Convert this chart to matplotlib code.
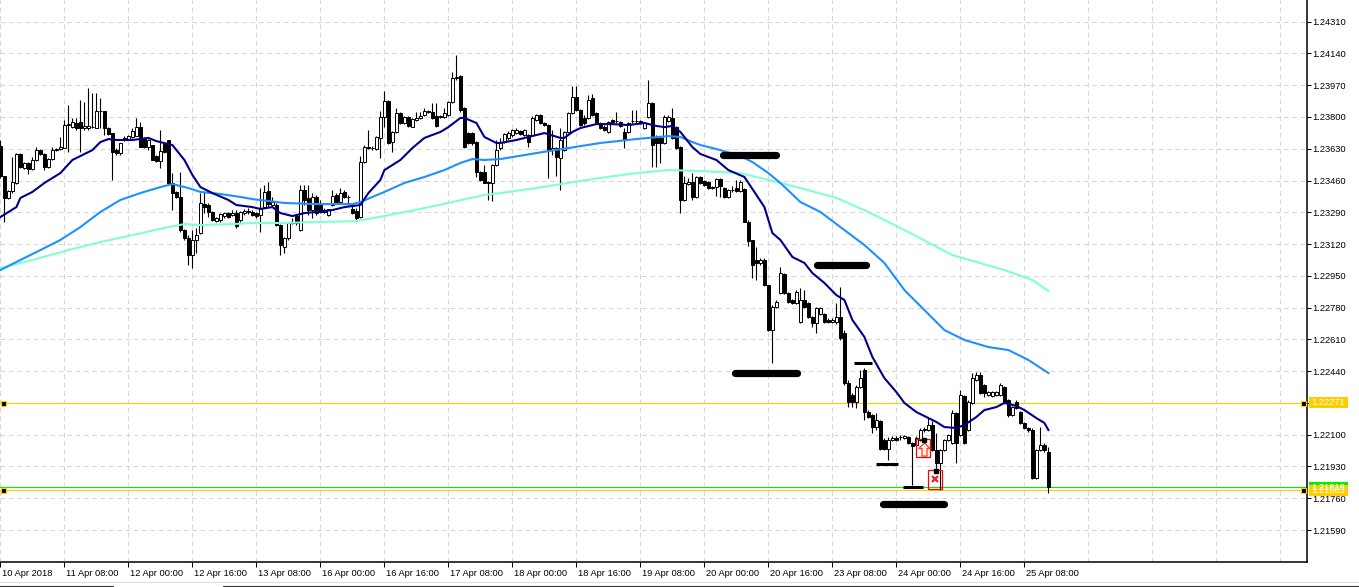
import numpy as np
import matplotlib.pyplot as plt
from matplotlib.patches import Rectangle
from matplotlib.transforms import ScaledTranslation, blended_transform_factory

plt.rcParams['font.family'] = ['Liberation Sans', 'DejaVu Sans']

# EURUSD H1, one value per bar
opens = [
    1.23645, 1.23484, 1.23367, 1.23404, 1.23447, 1.23602, 1.23527, 1.23554, 1.23522, 1.23570,
    1.23623, 1.23602, 1.23532, 1.23575, 1.23623, 1.23629, 1.23634, 1.23757, 1.23746, 1.23768,
    1.23773, 1.23741, 1.23741, 1.23746, 1.23741, 1.23832, 1.23832, 1.23741, 1.23714, 1.23623,
    1.23607, 1.23677, 1.23682, 1.23693, 1.23698, 1.23746, 1.23682, 1.23639, 1.23650, 1.23591,
    1.23564, 1.23661, 1.23677, 1.23447, 1.23399, 1.23372, 1.23195, 1.23152, 1.23062, 1.23142,
    1.23179, 1.23334, 1.23329, 1.23292, 1.23243, 1.23249, 1.23270, 1.23286, 1.23276, 1.23286,
    1.23249, 1.23286, 1.23297, 1.23292, 1.23286, 1.23276, 1.23318, 1.23404, 1.23329, 1.23329,
    1.23222, 1.23104, 1.23152, 1.23233, 1.23270, 1.23195, 1.23409, 1.23367, 1.23302, 1.23372,
    1.23329, 1.23292, 1.23276, 1.23329, 1.23383, 1.23345, 1.23399, 1.23372, 1.23308, 1.23297,
    1.23265, 1.23559, 1.23639, 1.23634, 1.23629, 1.23688, 1.23800, 1.23886, 1.23666, 1.23720,
    1.23821, 1.23768, 1.23800, 1.23746, 1.23784, 1.23795, 1.23811, 1.23832, 1.23827, 1.23805,
    1.23800, 1.23800, 1.23811, 1.23880, 1.24009, 1.24019, 1.23848, 1.23714, 1.23714, 1.23666,
    1.23506, 1.23506, 1.23452, 1.23447, 1.23543, 1.23634, 1.23666, 1.23688, 1.23704, 1.23714,
    1.23725, 1.23704, 1.23704, 1.23704, 1.23784, 1.23811, 1.23768, 1.23757, 1.23623, 1.23634,
    1.23581, 1.23623, 1.23720, 1.23821, 1.23907, 1.23837, 1.23795, 1.23795, 1.23902, 1.23821,
    1.23768, 1.23746, 1.23720, 1.23784, 1.23779, 1.23773, 1.23720, 1.23720, 1.23779, 1.23779,
    1.23779, 1.23741, 1.23800, 1.23875, 1.23688, 1.23688, 1.23661, 1.23779, 1.23795, 1.23746,
    1.23639, 1.23356, 1.23441, 1.23452, 1.23372, 1.23479, 1.23457, 1.23452, 1.23420, 1.23425,
    1.23468, 1.23420, 1.23372, 1.23409, 1.23420, 1.23404, 1.23415, 1.23238, 1.23142, 1.23035,
    1.23019, 1.23035, 1.22901, 1.22660, 1.22783, 1.22858, 1.22960, 1.22858, 1.22821, 1.22805,
    1.22703, 1.22821, 1.22805, 1.22730, 1.22698, 1.22746, 1.22746, 1.22714, 1.22703, 1.22703,
    1.22730, 1.22644, 1.22377, 1.22312, 1.22275, 1.22355, 1.22446, 1.22221, 1.22205, 1.22141,
    1.22173, 1.22072, 1.22023, 1.22072, 1.22082, 1.22088, 1.22082, 1.22088, 1.22056, 1.22045,
    1.22072, 1.22125, 1.22125, 1.22152, 1.22018, 1.21948, 1.22018, 1.22072, 1.22056, 1.22216,
    1.22098, 1.22307, 1.22125, 1.22269, 1.22393, 1.22419, 1.22366, 1.22312, 1.22307, 1.22312,
    1.22312, 1.22355, 1.22286, 1.22205, 1.22275, 1.22221, 1.22163, 1.22136, 1.22125, 1.21868,
    1.22018, 1.22045, 1.22007]
highs = [
    1.23677, 1.23484, 1.23409, 1.23586, 1.23607, 1.23607, 1.23559, 1.23559, 1.23586, 1.23639,
    1.23629, 1.23607, 1.23581, 1.23639, 1.23634, 1.23693, 1.23784, 1.23864, 1.23795, 1.23795,
    1.23891, 1.23880, 1.23955, 1.23928, 1.23928, 1.23902, 1.23832, 1.23746, 1.23714, 1.23634,
    1.23661, 1.23698, 1.23704, 1.23741, 1.23795, 1.23773, 1.23693, 1.23682, 1.23650, 1.23597,
    1.23730, 1.23666, 1.23677, 1.23500, 1.23404, 1.23506, 1.23201, 1.23168, 1.23195, 1.23206,
    1.23393, 1.23399, 1.23340, 1.23297, 1.23265, 1.23286, 1.23292, 1.23292, 1.23302, 1.23302,
    1.23297, 1.23308, 1.23313, 1.23302, 1.23292, 1.23420, 1.23436, 1.23452, 1.23372, 1.23340,
    1.23227, 1.23158, 1.23238, 1.23259, 1.23281, 1.23436, 1.23436, 1.23436, 1.23393, 1.23383,
    1.23356, 1.23313, 1.23308, 1.23409, 1.23393, 1.23420, 1.23409, 1.23383, 1.23329, 1.23313,
    1.23591, 1.23650, 1.23730, 1.23645, 1.23698, 1.23832, 1.23939, 1.23891, 1.23725, 1.23848,
    1.23827, 1.23805, 1.23805, 1.23795, 1.23827, 1.23827, 1.23848, 1.23837, 1.23875, 1.23875,
    1.23811, 1.23848, 1.23886, 1.24041, 1.24132, 1.24025, 1.23853, 1.23720, 1.23720, 1.23671,
    1.23511, 1.23543, 1.23457, 1.23548, 1.23677, 1.23688, 1.23714, 1.23725, 1.23736, 1.23741,
    1.23730, 1.23736, 1.23709, 1.23805, 1.23816, 1.23816, 1.23773, 1.23762, 1.23730, 1.23639,
    1.23741, 1.23725, 1.23827, 1.23966, 1.23966, 1.23843, 1.23811, 1.23918, 1.23923, 1.23827,
    1.23773, 1.23757, 1.23779, 1.23789, 1.23827, 1.23779, 1.23741, 1.23773, 1.23837, 1.23837,
    1.23784, 1.23773, 1.23998, 1.23880, 1.23704, 1.23698, 1.23811, 1.23811, 1.23848, 1.23752,
    1.23645, 1.23484, 1.23474, 1.23500, 1.23484, 1.23484, 1.23463, 1.23457, 1.23431, 1.23474,
    1.23474, 1.23425, 1.23415, 1.23431, 1.23463, 1.23463, 1.23420, 1.23249, 1.23142, 1.23104,
    1.23045, 1.23045, 1.22901, 1.22794, 1.22821, 1.22997, 1.22965, 1.22864, 1.22826, 1.22874,
    1.22885, 1.22874, 1.22810, 1.22735, 1.22783, 1.22783, 1.22751, 1.22724, 1.22724, 1.22805,
    1.22890, 1.22660, 1.22393, 1.22323, 1.22366, 1.22446, 1.22457, 1.22232, 1.22211, 1.22216,
    1.22179, 1.22082, 1.22088, 1.22093, 1.22093, 1.22098, 1.22098, 1.22093, 1.22061, 1.22093,
    1.22136, 1.22141, 1.22189, 1.22173, 1.22109, 1.22023, 1.22077, 1.22104, 1.22232, 1.22221,
    1.22339, 1.22312, 1.22286, 1.22430, 1.22435, 1.22435, 1.22371, 1.22334, 1.22334, 1.22334,
    1.22377, 1.22361, 1.22291, 1.22253, 1.22286, 1.22227, 1.22168, 1.22141, 1.22136, 1.22023,
    1.22141, 1.22056, 1.22034]
lows = [
    1.23474, 1.23238, 1.23361, 1.23393, 1.23441, 1.23527, 1.23522, 1.23495, 1.23516, 1.23564,
    1.23597, 1.23516, 1.23527, 1.23570, 1.23618, 1.23623, 1.23634, 1.23613, 1.23741, 1.23730,
    1.23613, 1.23730, 1.23730, 1.23741, 1.23741, 1.23741, 1.23704, 1.23704, 1.23463, 1.23597,
    1.23597, 1.23671, 1.23677, 1.23688, 1.23698, 1.23639, 1.23634, 1.23623, 1.23570, 1.23559,
    1.23527, 1.23607, 1.23447, 1.23302, 1.23367, 1.23185, 1.23142, 1.23008, 1.22992, 1.23072,
    1.23174, 1.23286, 1.23265, 1.23243, 1.23238, 1.23238, 1.23259, 1.23259, 1.23270, 1.23206,
    1.23238, 1.23276, 1.23281, 1.23270, 1.23259, 1.23185, 1.23313, 1.23318, 1.23318, 1.23217,
    1.23062, 1.23072, 1.23142, 1.23227, 1.23222, 1.23190, 1.23329, 1.23276, 1.23259, 1.23276,
    1.23286, 1.23286, 1.23270, 1.23324, 1.23340, 1.23340, 1.23367, 1.23329, 1.23281, 1.23249,
    1.23259, 1.23554, 1.23629, 1.23623, 1.23623, 1.23581, 1.23746, 1.23655, 1.23613, 1.23714,
    1.23762, 1.23762, 1.23746, 1.23746, 1.23779, 1.23789, 1.23805, 1.23821, 1.23789, 1.23746,
    1.23795, 1.23795, 1.23805, 1.23875, 1.23998, 1.23827, 1.23634, 1.23655, 1.23650, 1.23479,
    1.23457, 1.23447, 1.23356, 1.23350, 1.23538, 1.23623, 1.23661, 1.23677, 1.23693, 1.23709,
    1.23704, 1.23698, 1.23639, 1.23698, 1.23779, 1.23762, 1.23752, 1.23474, 1.23597, 1.23484,
    1.23409, 1.23618, 1.23714, 1.23816, 1.23832, 1.23752, 1.23757, 1.23789, 1.23805, 1.23762,
    1.23736, 1.23725, 1.23714, 1.23768, 1.23768, 1.23746, 1.23634, 1.23714, 1.23768, 1.23768,
    1.23762, 1.23736, 1.23795, 1.23532, 1.23532, 1.23554, 1.23655, 1.23773, 1.23682, 1.23629,
    1.23286, 1.23350, 1.23436, 1.23356, 1.23367, 1.23441, 1.23431, 1.23415, 1.23415, 1.23377,
    1.23372, 1.23367, 1.23367, 1.23399, 1.23399, 1.23399, 1.23238, 1.23110, 1.22938, 1.22928,
    1.23008, 1.22896, 1.22655, 1.22484, 1.22778, 1.22853, 1.22853, 1.22805, 1.22799, 1.22799,
    1.22698, 1.22778, 1.22724, 1.22676, 1.22644, 1.22740, 1.22698, 1.22698, 1.22698, 1.22692,
    1.22607, 1.22366, 1.22248, 1.22248, 1.22243, 1.22350, 1.22179, 1.22189, 1.22109, 1.22125,
    1.22018, 1.22018, 1.21965, 1.22066, 1.22066, 1.22072, 1.22077, 1.22050, 1.21831, 1.22039,
    1.22066, 1.22114, 1.22120, 1.22013, 1.21911, 1.21804, 1.22013, 1.22066, 1.22050, 1.21948,
    1.22093, 1.22050, 1.22120, 1.22264, 1.22387, 1.22318, 1.22302, 1.22307, 1.22302, 1.22307,
    1.22307, 1.22269, 1.22195, 1.22200, 1.22237, 1.22157, 1.22130, 1.22114, 1.21863, 1.21863,
    1.22013, 1.22007, 1.21788]
closes = [
    1.23484, 1.23367, 1.23404, 1.23452, 1.23602, 1.23532, 1.23554, 1.23522, 1.23570, 1.23623,
    1.23602, 1.23532, 1.23575, 1.23623, 1.23629, 1.23639, 1.23757, 1.23762, 1.23773, 1.23741,
    1.23741, 1.23752, 1.23752, 1.23748, 1.23832, 1.23830, 1.23741, 1.23709, 1.23613, 1.23607,
    1.23661, 1.23688, 1.23698, 1.23725, 1.23746, 1.23639, 1.23639, 1.23677, 1.23570, 1.23564,
    1.23618, 1.23613, 1.23447, 1.23393, 1.23372, 1.23195, 1.23152, 1.23062, 1.23142, 1.23168,
    1.23340, 1.23318, 1.23292, 1.23249, 1.23259, 1.23281, 1.23286, 1.23265, 1.23286, 1.23217,
    1.23292, 1.23297, 1.23292, 1.23276, 1.23270, 1.23313, 1.23399, 1.23334, 1.23345, 1.23222,
    1.23115, 1.23152, 1.23233, 1.23238, 1.23233, 1.23409, 1.23356, 1.23302, 1.23372, 1.23286,
    1.23292, 1.23302, 1.23308, 1.23377, 1.23345, 1.23393, 1.23372, 1.23370, 1.23286, 1.23259,
    1.23559, 1.23639, 1.23634, 1.23632, 1.23693, 1.23800, 1.23886, 1.23661, 1.23720, 1.23821,
    1.23768, 1.23800, 1.23752, 1.23789, 1.23795, 1.23805, 1.23832, 1.23827, 1.23795, 1.23752,
    1.23803, 1.23821, 1.23880, 1.24009, 1.24012, 1.23837, 1.23639, 1.23661, 1.23661, 1.23506,
    1.23463, 1.23447, 1.23447, 1.23543, 1.23623, 1.23666, 1.23709, 1.23714, 1.23730, 1.23730,
    1.23709, 1.23730, 1.23666, 1.23795, 1.23811, 1.23768, 1.23757, 1.23623, 1.23634, 1.23586,
    1.23677, 1.23720, 1.23821, 1.23907, 1.23837, 1.23757, 1.23768, 1.23891, 1.23811, 1.23768,
    1.23741, 1.23730, 1.23773, 1.23773, 1.23776, 1.23752, 1.23677, 1.23768, 1.23776, 1.23776,
    1.23768, 1.23768, 1.23875, 1.23650, 1.23661, 1.23661, 1.23800, 1.23800, 1.23688, 1.23634,
    1.23356, 1.23447, 1.23452, 1.23372, 1.23479, 1.23447, 1.23436, 1.23420, 1.23425, 1.23468,
    1.23431, 1.23372, 1.23409, 1.23407, 1.23404, 1.23452, 1.23238, 1.23136, 1.23008, 1.23019,
    1.23035, 1.22901, 1.22660, 1.22783, 1.22810, 1.22965, 1.22858, 1.22810, 1.22805, 1.22864,
    1.22821, 1.22783, 1.22730, 1.22698, 1.22778, 1.22778, 1.22703, 1.22703, 1.22714, 1.22730,
    1.22617, 1.22377, 1.22275, 1.22275, 1.22355, 1.22403, 1.22221, 1.22195, 1.22141, 1.22179,
    1.22023, 1.22023, 1.22072, 1.22082, 1.22072, 1.22086, 1.22093, 1.22056, 1.22039, 1.22082,
    1.22125, 1.22130, 1.22152, 1.22018, 1.21948, 1.22018, 1.22072, 1.22098, 1.22216, 1.22056,
    1.22312, 1.22056, 1.22275, 1.22403, 1.22419, 1.22323, 1.22323, 1.22328, 1.22328, 1.22328,
    1.22366, 1.22269, 1.22205, 1.22248, 1.22243, 1.22163, 1.22136, 1.22125, 1.21868, 1.22018,
    1.22045, 1.22018, 1.21818]

# moving averages, read at selected bars
ma_fast_bars = [0, 4, 5, 8, 11, 15, 18, 23, 25, 27, 29, 33, 37, 39, 42, 43, 46, 48, 50, 53,
                57, 59, 63, 65, 68, 70, 73, 76, 79, 83, 86, 90, 92, 95, 96, 100, 103, 106, 110, 112,
                115, 116, 119, 121, 124, 125, 129, 132, 136, 140, 141, 143, 145, 149, 153, 157, 161, 164, 166, 168,
                170, 173, 175, 179, 182, 186, 189, 191, 193, 195, 198, 201, 203, 206, 209, 211, 213, 216, 218, 221,
                224, 226, 229, 231, 234, 236, 239, 241, 244, 246, 249, 251, 254, 256, 259, 261, 262]
ma_fast = [1.23265, 1.23318, 1.23367, 1.23399, 1.23447, 1.23500, 1.23570, 1.23623, 1.23666, 1.23682,
           1.23677, 1.23677, 1.23688, 1.23671, 1.23655, 1.23650, 1.23570, 1.23490, 1.23425, 1.23393,
           1.23356, 1.23329, 1.23318, 1.23308, 1.23318, 1.23286, 1.23270, 1.23286, 1.23292, 1.23302,
           1.23318, 1.23329, 1.23393, 1.23463, 1.23516, 1.23570, 1.23634, 1.23688, 1.23720, 1.23746,
           1.23795, 1.23795, 1.23768, 1.23693, 1.23661, 1.23661, 1.23677, 1.23693, 1.23714, 1.23688,
           1.23688, 1.23720, 1.23741, 1.23762, 1.23762, 1.23757, 1.23768, 1.23752, 1.23746, 1.23752,
           1.23720, 1.23639, 1.23602, 1.23570, 1.23516, 1.23479, 1.23383, 1.23318, 1.23179, 1.23142,
           1.23051, 1.23019, 1.22965, 1.22912, 1.22847, 1.22821, 1.22714, 1.22623, 1.22516, 1.22403,
           1.22328, 1.22270, 1.22221, 1.22200, 1.22168, 1.22141, 1.22136, 1.22152, 1.22195, 1.22232,
           1.22248, 1.22270, 1.22254, 1.22232, 1.22189, 1.22163, 1.22125]

ma_mid_bars = [0, 5, 10, 15, 20, 25, 30, 35, 40, 43, 47, 50, 55, 60, 63, 71, 79, 88, 90, 96,
               101, 106, 111, 115, 118, 121, 125, 134, 142, 150, 159, 167, 170, 173, 175, 180, 185, 188, 192, 195,
               200, 205, 210, 216, 221, 226, 236, 241, 247, 252, 257, 262]
ma_mid = [1.22981, 1.23035, 1.23088, 1.23142, 1.23211, 1.23292, 1.23356, 1.23393, 1.23425, 1.23441,
          1.23420, 1.23399, 1.23388, 1.23372, 1.23361, 1.23340, 1.23334, 1.23334, 1.23345, 1.23399,
          1.23447, 1.23479, 1.23516, 1.23554, 1.23575, 1.23570, 1.23575, 1.23607, 1.23634, 1.23661,
          1.23682, 1.23698, 1.23693, 1.23666, 1.23650, 1.23623, 1.23591, 1.23559, 1.23500, 1.23447,
          1.23345, 1.23292, 1.23211, 1.23115, 1.23019, 1.22874, 1.22660, 1.22607, 1.22569, 1.22553,
          1.22500, 1.22430]

ma_slow_bars = [0, 8, 17, 25, 33, 42, 46, 50, 58, 63, 71, 79, 89, 96, 105, 113, 121, 125, 134, 142,
                150, 159, 167, 175, 185, 192, 200, 209, 217, 226, 238, 251, 258, 262]
ma_slow = [1.22992, 1.23035, 1.23088, 1.23131, 1.23168, 1.23211, 1.23227, 1.23222, 1.23227, 1.23233,
           1.23233, 1.23238, 1.23243, 1.23270, 1.23308, 1.23345, 1.23383, 1.23393, 1.23420, 1.23447,
           1.23474, 1.23500, 1.23516, 1.23511, 1.23500, 1.23463, 1.23420, 1.23367, 1.23292, 1.23195,
           1.23061, 1.22981, 1.22928, 1.22869]

tick_bars = list(range(0, 257, 16))
tick_labels = ['10 Apr 2018', '11 Apr 08:00', '12 Apr 00:00', '12 Apr 16:00', '13 Apr 08:00',
               '16 Apr 00:00', '16 Apr 16:00', '17 Apr 08:00', '18 Apr 00:00', '18 Apr 16:00',
               '19 Apr 08:00', '20 Apr 00:00', '20 Apr 16:00', '23 Apr 08:00', '24 Apr 00:00',
               '24 Apr 16:00', '25 Apr 08:00']
price_ticks = [1.24310, 1.24140, 1.23970, 1.23800, 1.23630, 1.23460, 1.23290, 1.23120, 1.22950,
               1.22780, 1.22610, 1.22440, 1.22270, 1.22100, 1.21930, 1.21760, 1.21590]

# drawn objects: (bar from, bar to, price)
thick_marks = [(180.6, 193.9, 1.23594), (204.1, 216.4, 1.23008),
               (183.6, 199.1, 1.22430), (220.6, 235.9, 1.21729)]
thin_marks = [(213.4, 218.0, 1.22484), (219.0, 224.5, 1.21943), (225.7, 230.7, 1.21820)]
levels = [1.22271, 1.21803]
bid = 1.21818
trade_boxes = [(229.0, 232.3, 1.21981, 1.22077), (232.0, 235.5, 1.21809, 1.21911)]
buy_arrow = (230.9, 1.22021)
tickets = [(231.0, 1.22072), (233.8, 1.21906)]
close_mark = (233.7, 1.21863)

W, H = 1359, 587
fig = plt.figure(figsize=(W / 100, H / 100), dpi=100)
ax = fig.add_axes([0, 25 / H, 1307 / W, 562 / H])
ax.set_xlim(-0.1, 326.65)
ax.set_ylim(1.21419, 1.24426)

grid_kw = dict(color='#d6d6d6', lw=0.75, ls=(0, (4.5, 3.5)), zorder=0)
for b in range(0, 321, 16):
    ax.axvline(b, **grid_kw)
for p in price_ticks:
    ax.axhline(p, **grid_kw)

for p in levels:
    ax.axhline(p, color='#ffcc00', lw=0.8, zorder=1)
    ax.plot([0.55, 325.7], [p, p], 's', ms=3.6, mfc='black', mec='#ffcc00',
            mew=0.8, clip_on=False, zorder=6)
ax.axhline(bid, color='#00ee00', lw=0.8, zorder=1)

o = np.array(opens)
h = np.array(highs)
l = np.array(lows)
c = np.array(closes)
idx = np.arange(len(o))
up = c >= o
ax.vlines(idx, l, h, color='black', lw=0.8, zorder=2)
body_lo = np.minimum(o, c)
body_h = np.maximum(np.abs(c - o), 0.00002)
ax.bar(idx, body_h, bottom=body_lo, width=0.6,
       color=np.where(up, 'white', 'black'), edgecolor='black', linewidth=0.7, zorder=2.5)

ax.plot(ma_slow_bars, ma_slow, color='#7fffd4', lw=1.5, zorder=3)
ax.plot(ma_mid_bars, ma_mid, color='#1e90ff', lw=1.5, zorder=3.1)
ax.plot(ma_fast_bars, ma_fast, color='#00008b', lw=1.5, zorder=3.2)

for x0, x1, p in thick_marks:
    ax.plot([x0, x1], [p, p], color='black', lw=5.2, solid_capstyle='round', zorder=4)
for x0, x1, p in thin_marks:
    ax.plot([x0, x1], [p, p], color='black', lw=2.2, solid_capstyle='butt', zorder=4)

for x0, x1, p0, p1 in trade_boxes:
    ax.add_patch(Rectangle((x0, p0), x1 - x0, p1 - p0, fill=False, ec='#ff0000', lw=0.9, zorder=5))
arrow = [(0, 1), (-0.85, 0.15), (-0.38, 0.15), (-0.38, -1), (0.38, -1), (0.38, 0.15), (0.85, 0.15), (0, 1)]
ax.plot(*buy_arrow, marker=arrow, ms=9.5, mfc='#fff0e8', mec='#ff3c14', mew=0.9, zorder=5)
ax.plot([t[0] for t in tickets], [t[1] for t in tickets], 's', ms=3.2, color='black', zorder=6)
ax.plot(*close_mark, 'x', ms=4.5, mew=1.6, color='#ff2020', zorder=6)

for s in ['top', 'left']:
    ax.spines[s].set_visible(False)
for s in ['right', 'bottom']:
    ax.spines[s].set_linewidth(1.1)

ax.yaxis.tick_right()
ax.set_yticks(price_ticks, ['%.5f' % p for p in price_ticks])
ax.tick_params(axis='y', direction='out', length=3, width=0.75, pad=0.8, labelsize=6.7)
ax.set_xticks(tick_bars, tick_labels)
ax.tick_params(axis='x', direction='out', length=3.5, width=0.75, pad=1.2, labelsize=6.7)
shift = ScaledTranslation(1.2 / 72, 0, fig.dpi_scale_trans)
for lab in ax.get_xticklabels():
    lab.set_horizontalalignment('left')
    lab.set_transform(lab.get_transform() + shift)

# price labels on the right scale
blend = blended_transform_factory(fig.transFigure, ax.transData)
box_h = 0.000565
for p, col, txt in [(bid, '#00ee00', '%.5f' % bid), (levels[0], '#ffcc00', '%.5f' % levels[0]),
                    (levels[1], '#ffcc00', '%.5f' % levels[1])]:
    ax.add_patch(Rectangle((1309 / W, p - box_h / 2), 39 / W, box_h, transform=blend,
                           fc=col, ec='none', clip_on=False, zorder=10))
    ax.text(1311 / W, p, txt, transform=blend, color='white', fontsize=6.7,
            va='center', ha='left', clip_on=False, zorder=11)

# terminal tab strip at the bottom
deco = fig.add_axes([0, 0, 1, 1], zorder=-1)
deco.set_xlim(0, W)
deco.set_ylim(H, 0)
deco.axis('off')
deco.plot([0, W], [582, 582], color='#dddddd', lw=0.8)
deco.plot([0, 112.5, 112.5], [585.5, 585.5, 590], color='#333333', lw=0.8)
deco.plot([222.5, 222.5, W], [590, 585.5, 585.5], color='#333333', lw=0.8)

fig.savefig('out.png', dpi=100, facecolor='white')
